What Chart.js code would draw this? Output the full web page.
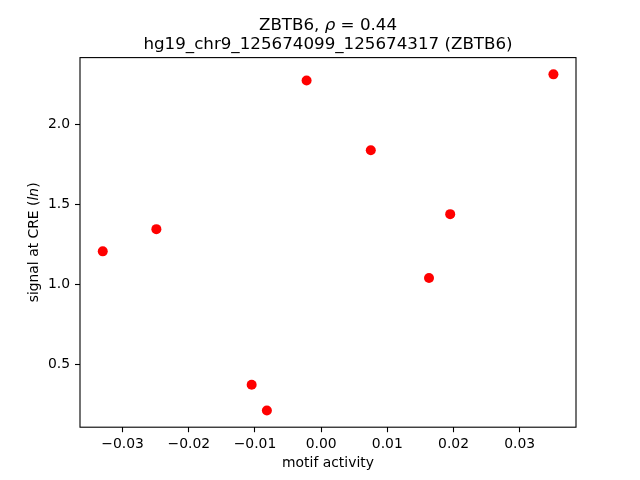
<!DOCTYPE html>
<html>
<head>
<meta charset="utf-8">
<script src="https://cdn.jsdelivr.net/npm/chart.js@4/dist/chart.umd.min.js"></script>
<style>
  body { margin: 0; background: #fff; }
</style>
</head>
<body>
<canvas id="scatter-chart" width="640" height="480"></canvas>
<script>
// data
const motifActivity = [-0.0330, -0.0249, -0.0105, -0.0082, -0.0022, 0.0075, 0.0163, 0.0195, 0.0351];
const signalAtCre = [1.206, 1.345, 0.371, 0.210, 2.276, 1.839, 1.039, 1.439, 2.314];
const xTicks = [-0.03, -0.02, -0.01, 0.0, 0.01, 0.02, 0.03];
const yTicks = [0.5, 1.0, 1.5, 2.0];
const xLimits = [-0.03644, 0.03851];
const yLimits = [0.105, 2.419];

const FONT = "'DejaVu Sans', sans-serif";

//draw a line of text with some italic parts, centered on x
function drawRich(ctx, parts, x, y, size) {
  let total = 0;
  const widths = parts.map((p) => {
    ctx.font = (p.italic ? "italic " : "") + size + "px " + FONT;
    const w = ctx.measureText(p.t).width;
    total += w;
    return w;
  });
  let cx = x - total / 2;
  parts.forEach((p, i) => {
    ctx.font = (p.italic ? "italic " : "") + size + "px " + FONT;
    ctx.fillText(p.t, cx, y);
    cx += widths[i];
  });
}

// frame + titles (matplotlib style)
const framePlugin = {
  id: "frame",
  afterDraw(chart) {
    const ctx = chart.ctx;
    const a = chart.chartArea;
    ctx.save();
    ctx.strokeStyle = "#000";
    ctx.lineWidth = 1.1;
    ctx.strokeRect(a.left, a.top, a.right - a.left, a.bottom - a.top);

    ctx.fillStyle = "#000";
    ctx.textAlign = "left";
    ctx.textBaseline = "alphabetic";
    const cx = (a.left + a.right) / 2;
    drawRich(ctx, [{ t: "ZBTB6, " }, { t: "ρ", italic: true }, { t: " = 0.44" }], cx, 30, 16.7);
    drawRich(ctx, [{ t: "hg19_chr9_125674099_125674317 (ZBTB6)" }], cx, 49, 16.7);

    drawRich(ctx, [{ t: "motif activity" }], cx, 467, 13.9);

    ctx.translate(38, (a.top + a.bottom) / 2);
    ctx.rotate(-Math.PI / 2);
    drawRich(ctx, [{ t: "signal at CRE (" }, { t: "ln", italic: true }, { t: ")" }], 0, 0, 13.9);
    ctx.restore();
  },
};

const points = motifActivity.map((x, i) => ({ x: x, y: signalAtCre[i] }));

new Chart(document.getElementById("scatter-chart"), {
  type: "scatter",
  data: {
    datasets: [
      {
        data: points,
        backgroundColor: "#ff0000",
        borderWidth: 0,
        pointRadius: 5,
      },
    ],
  },
  options: {
    responsive: false,
    animation: false,
    devicePixelRatio: 1,
    layout: { padding: { left: 0, right: 64, top: 57.6, bottom: 0 } },
    plugins: { legend: { display: false }, tooltip: { enabled: false }, title: { display: false } },
    scales: {
      x: {
        type: "linear",
        min: xLimits[0],
        max: xLimits[1],
        afterBuildTicks: (scale) => {
          scale.ticks = xTicks.map((v) => ({ value: v }));
        },
        afterFit: (scale) => {
          scale.height = 52.8;
        },
        border: { display: false },
        grid: { drawOnChartArea: false, tickLength: 5, tickColor: "#000", tickWidth: 1.1 },
        ticks: {
          padding: 4,
          color: "#000",
          maxRotation: 0,
          font: { family: FONT, size: 13.9 },
          callback: (v) => v.toFixed(2).replace("-", "\u2212"),
        },
      },
      y: {
        type: "linear",
        min: yLimits[0],
        max: yLimits[1],
        afterBuildTicks: (scale) => {
          scale.ticks = yTicks.map((v) => ({ value: v }));
        },
        afterFit: (scale) => {
          scale.width = 80;
        },
        border: { display: false },
        grid: { drawOnChartArea: false, tickLength: 5, tickColor: "#000", tickWidth: 1.1 },
        ticks: {
          padding: 5,
          color: "#000",
          font: { family: FONT, size: 13.9 },
          callback: (v) => v.toFixed(1),
        },
      },
    },
  },
  plugins: [framePlugin],
});
</script>
</body>
</html>
